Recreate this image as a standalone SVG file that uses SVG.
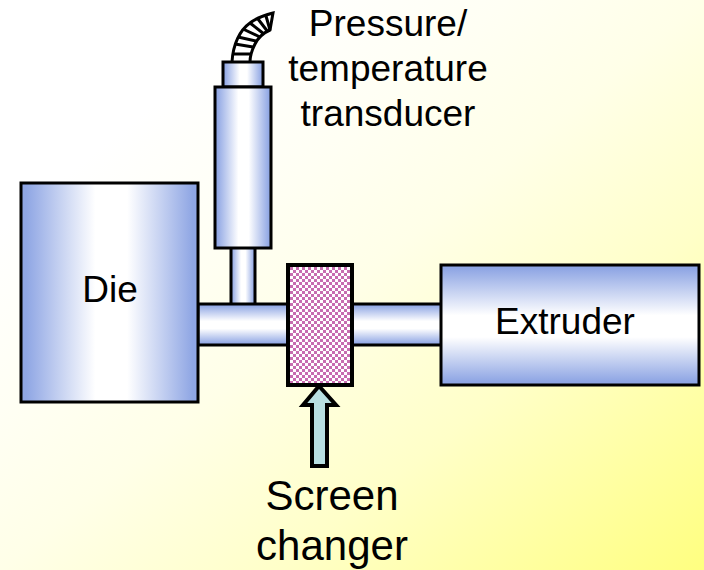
<svg xmlns="http://www.w3.org/2000/svg" width="704" height="570" viewBox="0 0 704 570">
<defs>
<linearGradient id="bg" x1="0" y1="0" x2="1" y2="1"><stop offset="0.2" stop-color="#ffffff"/><stop offset="0.36" stop-color="#fffff4"/><stop offset="0.5" stop-color="#ffffe8"/><stop offset="0.7" stop-color="#ffffc8"/><stop offset="0.85" stop-color="#ffffa4"/><stop offset="1" stop-color="#ffff80"/></linearGradient>
<linearGradient id="h"><stop offset="0.03" stop-color="#8fa6e4"/><stop offset="0.42" stop-color="#ffffff"/><stop offset="0.6" stop-color="#ffffff"/><stop offset="0.97" stop-color="#8fa6e4"/></linearGradient>
<linearGradient id="v" x1="0" y1="0" x2="0" y2="1"><stop offset="0.03" stop-color="#8fa6e4"/><stop offset="0.42" stop-color="#ffffff"/><stop offset="0.6" stop-color="#ffffff"/><stop offset="0.97" stop-color="#8fa6e4"/></linearGradient>
<pattern id="chk" width="6" height="6" patternUnits="userSpaceOnUse" x="290" y="267"><rect width="6" height="6" fill="#fff"/><path d="M0 0h3v3h-3zM3 3h3v3h-3z" fill="#c76cb0"/></pattern>
</defs>
<style>
.s{stroke:#000;stroke-width:3}
.t{font-family:"Liberation Sans",Arial,sans-serif;fill:#000;text-anchor:middle}
.a{font-size:37px}.b{font-size:42px}
</style>
<rect id="background" width="704" height="570" fill="url(#bg)"/>
<g id="connectors">
<rect x="231" y="247" width="24" height="58" fill="url(#h)" class="s"/>
<rect x="198" y="304" width="92" height="41" fill="url(#v)" class="s"/>
<rect x="352" y="304" width="90" height="41" fill="url(#v)" class="s"/>
</g>
<g id="hose" fill="none" stroke="#000">
<path d="M232 62C233 44 240 30 250 23C256 18 265 15 273 13L270 30C263 33 258 38 255 44C252 50 250 56 250 62" stroke-width="3" fill="#fff"/>
<path d="M232 54H250M235 44L253 47M238 37L256 41M243 29L260 37M250 23L264 34M258 19L268 32M266 16L270 30" stroke-width="3"/>
</g>
<g id="transducer">
<rect x="223" y="62" width="40" height="25" fill="url(#h)" class="s"/>
<rect x="215" y="87" width="56" height="161" fill="url(#h)" class="s"/>
</g>
<g id="die">
<rect x="21" y="183" width="177" height="219" fill="url(#h)" class="s"/>
<text class="t a" x="110" y="302">Die</text>
</g>
<g id="screen">
<rect x="288" y="265" width="64" height="120" fill="url(#chk)" stroke="#000" stroke-width="4"/>
</g>
<g id="extruder">
<rect x="441" y="265" width="258" height="120" fill="url(#v)" class="s"/>
<text class="t a" x="565" y="334">Extruder</text>
</g>
<g id="arrow">
<path d="M319 386L336 405H327V466H312V405H303Z" fill="#b8dfe2" stroke="#000" stroke-width="4"/>
</g>
<g id="labels">
<text class="t a" x="388" y="36">Pressure/</text>
<text class="t a" x="388" y="81">temperature</text>
<text class="t a" x="388" y="126">transducer</text>
<text class="t b" x="332" y="510">Screen</text>
<text class="t b" x="332" y="560">changer</text>
</g>
</svg>
